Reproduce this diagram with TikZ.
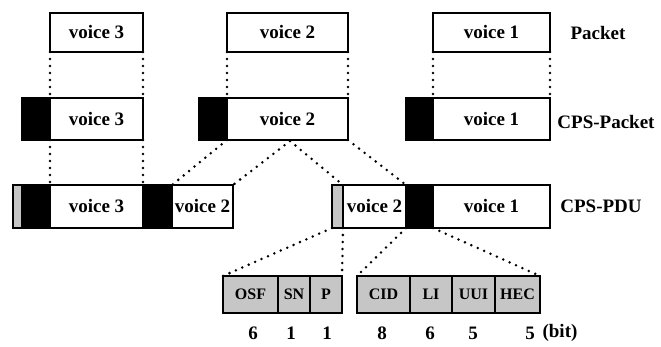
\documentclass[tikz,border=0pt]{standalone}
\usepackage{fontspec}
\setmainfont{Liberation Serif}
\begin{document}
\begin{tikzpicture}[x=1pt,y=-1pt,
  cell/.style={draw, line width=1.4pt, inner sep=0pt, outer sep=0pt, anchor=north west,
    font=\fontsize{19}{19}\selectfont\bfseries},
  hdr/.style={cell, fill=black},
  stf/.style={cell, fill=gray!45},
  fld/.style={cell, fill=gray!45, font=\fontsize{16}{16}\selectfont\bfseries},
  lbl/.style={inner sep=0pt, font=\fontsize{19}{19}\selectfont\bfseries},
  link/.style={line width=2.8pt, dash pattern=on 0pt off 7pt, line cap=round}]
\useasboundingbox (0,0) rectangle (661,347);

% Packet row
\node[cell, minimum width=93pt, minimum height=39pt] (p3) at (50,13) {voice 3};
\node[cell, minimum width=121pt, minimum height=39pt] (p2) at (227,13) {voice 2};
\node[cell, minimum width=117pt, minimum height=39pt] (p1) at (433,13) {voice 1};
\node[lbl] (lp) at (598,33) {Packet};

% CPS-Packet row
\node[hdr, minimum width=28pt, minimum height=42pt] (h3) at (22,98) {};
\node[cell, minimum width=93pt, minimum height=42pt] (c3) at (50,98) {voice 3};
\node[hdr, minimum width=28pt, minimum height=42pt] (h2) at (199,98) {};
\node[cell, minimum width=121pt, minimum height=42pt] (c2) at (227,98) {voice 2};
\node[hdr, minimum width=27pt, minimum height=42pt] (h1) at (406,98) {};
\node[cell, minimum width=117pt, minimum height=42pt] (c1) at (433,98) {voice 1};
\node[lbl] (lc) at (606,122) {CPS-Packet};

% CPS-PDU row
\node[stf, minimum width=9pt, minimum height=43pt] (s1) at (13,185) {};
\node[hdr, minimum width=28pt, minimum height=43pt] (k3) at (22,185) {};
\node[cell, minimum width=93pt, minimum height=43pt] (d3) at (50,185) {voice 3};
\node[hdr, minimum width=29pt, minimum height=43pt] (k2) at (143,185) {};
\node[cell, minimum width=61pt, minimum height=43pt] (d2a) at (172,185) {voice 2};
\node[stf, minimum width=11pt, minimum height=43pt] (s2) at (332,185) {};
\node[cell, minimum width=63pt, minimum height=43pt] (d2b) at (343,185) {voice 2};
\node[hdr, minimum width=27pt, minimum height=43pt] (k1) at (406,185) {};
\node[cell, minimum width=117pt, minimum height=43pt] (d1) at (433,185) {voice 1};
\node[lbl] (ld) at (601,206) {CPS-PDU};

% Start field and CPS header fields
\node[fld, minimum width=55pt, minimum height=37pt] (osf) at (223,276) {OSF};
\node[fld, minimum width=32pt, minimum height=37pt] (sn) at (278,276) {SN};
\node[fld, minimum width=32pt, minimum height=37pt] (par) at (310,276) {P};
\node[fld, minimum width=53pt, minimum height=37pt] (cid) at (357,276) {CID};
\node[fld, minimum width=42pt, minimum height=37pt] (li) at (410,276) {LI};
\node[fld, minimum width=43pt, minimum height=37pt] (uui) at (452,276) {UUI};
\node[fld, minimum width=45pt, minimum height=37pt] (hec) at (495,276) {HEC};

% bit widths
\node[lbl] (n1) at (253,333) {6};
\node[lbl] (n2) at (291,333) {1};
\node[lbl] (n3) at (327,333) {1};
\node[lbl] (n4) at (382,333) {8};
\node[lbl] (n5) at (430,333) {6};
\node[lbl] (n6) at (473,333) {5};
\node[lbl] (n7) at (530,333) {5};
\node[lbl] (n8) at (560,333) {(bit)};

% split point of voice 2 in the CPS-Packet
\coordinate (cut) at (290,141);

% Packet -> CPS-Packet
\draw[link] (p3.south west) -- (c3.north west);
\draw[link] (p3.south east) -- (c3.north east);
\draw[link] (p2.south west) -- (c2.north west);
\draw[link] (p2.south east) -- (c2.north east);
\draw[link] (p1.south west) -- (c1.north west);
\draw[link] (p1.south east) -- (c1.north east);

% CPS-Packet -> CPS-PDU
\draw[link] (c3.south west) -- (d3.north west);
\draw[link] (c3.south east) -- (d3.north east);
\draw[link] (c2.south west) -- (d2a.north west);
\draw[link] (cut) -- (d2a.north east);
\draw[link] (cut) -- (d2b.north west);
\draw[link] (c2.south east) -- (k1.north west);

% CPS-PDU -> fields
\draw[link] (s2.south west) -- (osf.north west);
\draw[link] (s2.south east) -- (par.north east);
\draw[link] (k1.south west) -- (cid.north west);
\draw[link] (k1.south east) -- (hec.north east);
\end{tikzpicture}
\end{document}
